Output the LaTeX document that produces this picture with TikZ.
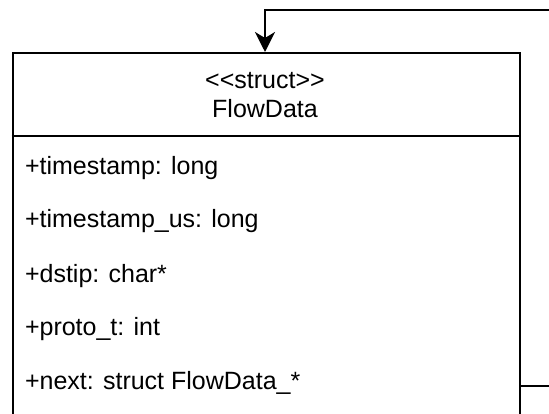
\documentclass[tikz,border=0pt]{standalone}
\usepackage{fontspec}
\setmainfont{Liberation Sans}
\usetikzlibrary{arrows.meta}

\begin{document}
\begin{tikzpicture}[x=1pt,y=-1pt,line width=2pt,
    field/.style={anchor=base west,inner sep=0pt,font=\fontsize{25}{30}\selectfont},
    head/.style={anchor=base,inner sep=0pt,font=\fontsize{25}{30}\selectfont}]
    \useasboundingbox (0,0) rectangle (549,414);
    \clip (0,0) rectangle (549,414);
    % class box, runs off the bottom edge
    \node[draw,anchor=north west,inner sep=0pt,minimum width=507pt,minimum height=420pt] (flowdata) at (11.5,52) {};
    \draw (11.5,136) -- (518.5,136);
    \node[head] (stereo) at (265,89) {{<}{<}struct{>}{>}};
    \node[head] (name) at (265,118) {FlowData};
    \node[field] (f1) at (24,175) {+timestamp: long};
    \node[field] (f2) at (24,228) {+timestamp\_us: long};
    \node[field] (f3) at (24,282) {+dstip: char*};
    \node[field] (f4) at (24,335) {+proto\_t: int};
    \node[field] (f5) at (24,389) {+next: struct FlowData\_*};
    % self reference through next
    \coordinate (out) at (flowdata.east |- 0,386);
    \coordinate (far) at (600,386);
    \draw[-{Stealth[length=20pt,width=20pt,inset=6pt]}]
        (out) -- (far) |- (265,10) -- (flowdata.north -| 265,0);
\end{tikzpicture}
\end{document}
